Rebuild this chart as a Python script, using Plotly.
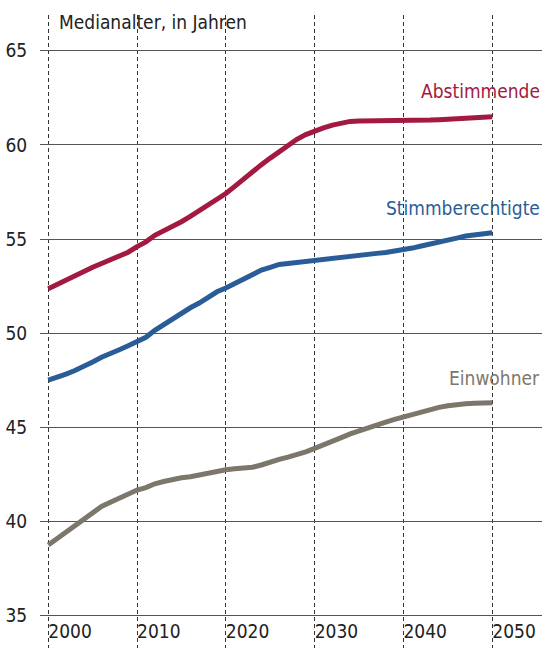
import plotly.graph_objects as go

years = list(range(2000, 2051))

abstimmende = [52.36, 52.6, 52.8, 53.05, 53.28, 53.5, 53.7, 53.9, 54.1, 54.3,
               54.6, 54.85, 55.2, 55.42, 55.65, 55.92, 56.2, 56.5, 56.8, 57.1,
               57.42, 57.8, 58.2, 58.6, 58.95, 59.3, 59.65, 60.0, 60.3, 60.55,
               60.75, 60.9, 61.05, 61.17, 61.25, 61.27, 61.27, 61.27, 61.27, 61.27,
               61.27, 61.29, 61.3, 61.32, 61.34, 61.36, 61.4, 61.44, 61.46, 61.48,
               61.5]

stimmberechtigte = [47.51, 47.65, 47.83, 48.02, 48.22, 48.47, 48.72, 48.9, 49.12, 49.33,
                    49.55, 49.78, 50.15, 50.45, 50.78, 51.05, 51.35, 51.6, 51.92, 52.2,
                    52.4, 52.65, 52.9, 53.1, 53.35, 53.5, 53.65, 53.7, 53.76, 53.82,
                    53.88, 53.9, 53.96, 54.02, 54.08, 54.13, 54.18, 54.24, 54.29, 54.35,
                    54.41, 54.52, 54.63, 54.72, 54.82, 54.92, 55.05, 55.16, 55.22, 55.28,
                    55.33]

einwohner = [38.75, 39.1, 39.45, 39.75, 40.08, 40.45, 40.8, 41.02, 41.25, 41.48,
             41.67, 41.8, 42.0, 42.12, 42.25, 42.32, 42.38, 42.48, 42.6, 42.68,
             42.75, 42.8, 42.85, 42.88, 43.0, 43.18, 43.3, 43.42, 43.53, 43.7,
             43.88, 44.05, 44.23, 44.45, 44.65, 44.82, 44.98, 45.12, 45.28, 45.42,
             45.56, 45.7, 45.83, 45.95, 46.06, 46.15, 46.22, 46.25, 46.28, 46.29,
             46.3]

x_ticks = [2000, 2010, 2020, 2030, 2040, 2050]
y_ticks = [35, 40, 45, 50, 55, 60, 65]

RED = "#a3193f"
BLUE = "#2a5d98"
GREY = "#7d776b"
FONT = "DejaVu Sans Condensed"

series = [
    ("Abstimmende", abstimmende, RED, 62.86),
    ("Stimmberechtigte", stimmberechtigte, BLUE, 56.65),
    ("Einwohner", einwohner, GREY, 47.62),
]

fig = go.Figure()
for name, vals, color, ly in series:
    fig.add_trace(go.Scatter(x=years, y=vals, mode="lines", name=name,
                             line=dict(color=color, width=5), showlegend=False))
    fig.add_annotation(x=1, xref="paper", y=ly, yref="y", text=name,
                       showarrow=False, xanchor="right", yanchor="middle",
                       xshift=0, font=dict(family=FONT, size=19, color=color))

fig.add_annotation(x=2001.0, xref="x", y=1, yref="paper", text="Medianalter, in Jahren",
                   showarrow=False, xanchor="left", yanchor="middle", yshift=-7,
                   font=dict(family=FONT, size=19, color="#222"))

fig.update_layout(
    width=542, height=648,
    margin=dict(l=40, r=0, t=15, b=0),
    paper_bgcolor="white", plot_bgcolor="white",
    font=dict(family=FONT, size=18, color="#222"),
    xaxis=dict(range=[1999.07, 2055.6], tickvals=x_ticks, ticktext=[str(v) for v in x_ticks],
               ticklabelposition="inside right", showgrid=True, gridcolor="#333",
               griddash="4px,3px", gridwidth=1, zeroline=False, showline=False,
               ticks="", tickfont=dict(family=FONT, size=19, color="#222")),
    yaxis=dict(range=[33.28, 66.9], tickvals=y_ticks, showgrid=True, gridcolor="#555",
               gridwidth=1.3, zeroline=False, showline=False,
               ticks="outside", ticklen=8, tickcolor="rgba(0,0,0,0)",
               tickfont=dict(family=FONT, size=19, color="#222")),
)

fig.write_html("out.html", config={"displayModeBar": False},
               post_script="document.body.style.margin='0';document.body.style.overflow='hidden';")
